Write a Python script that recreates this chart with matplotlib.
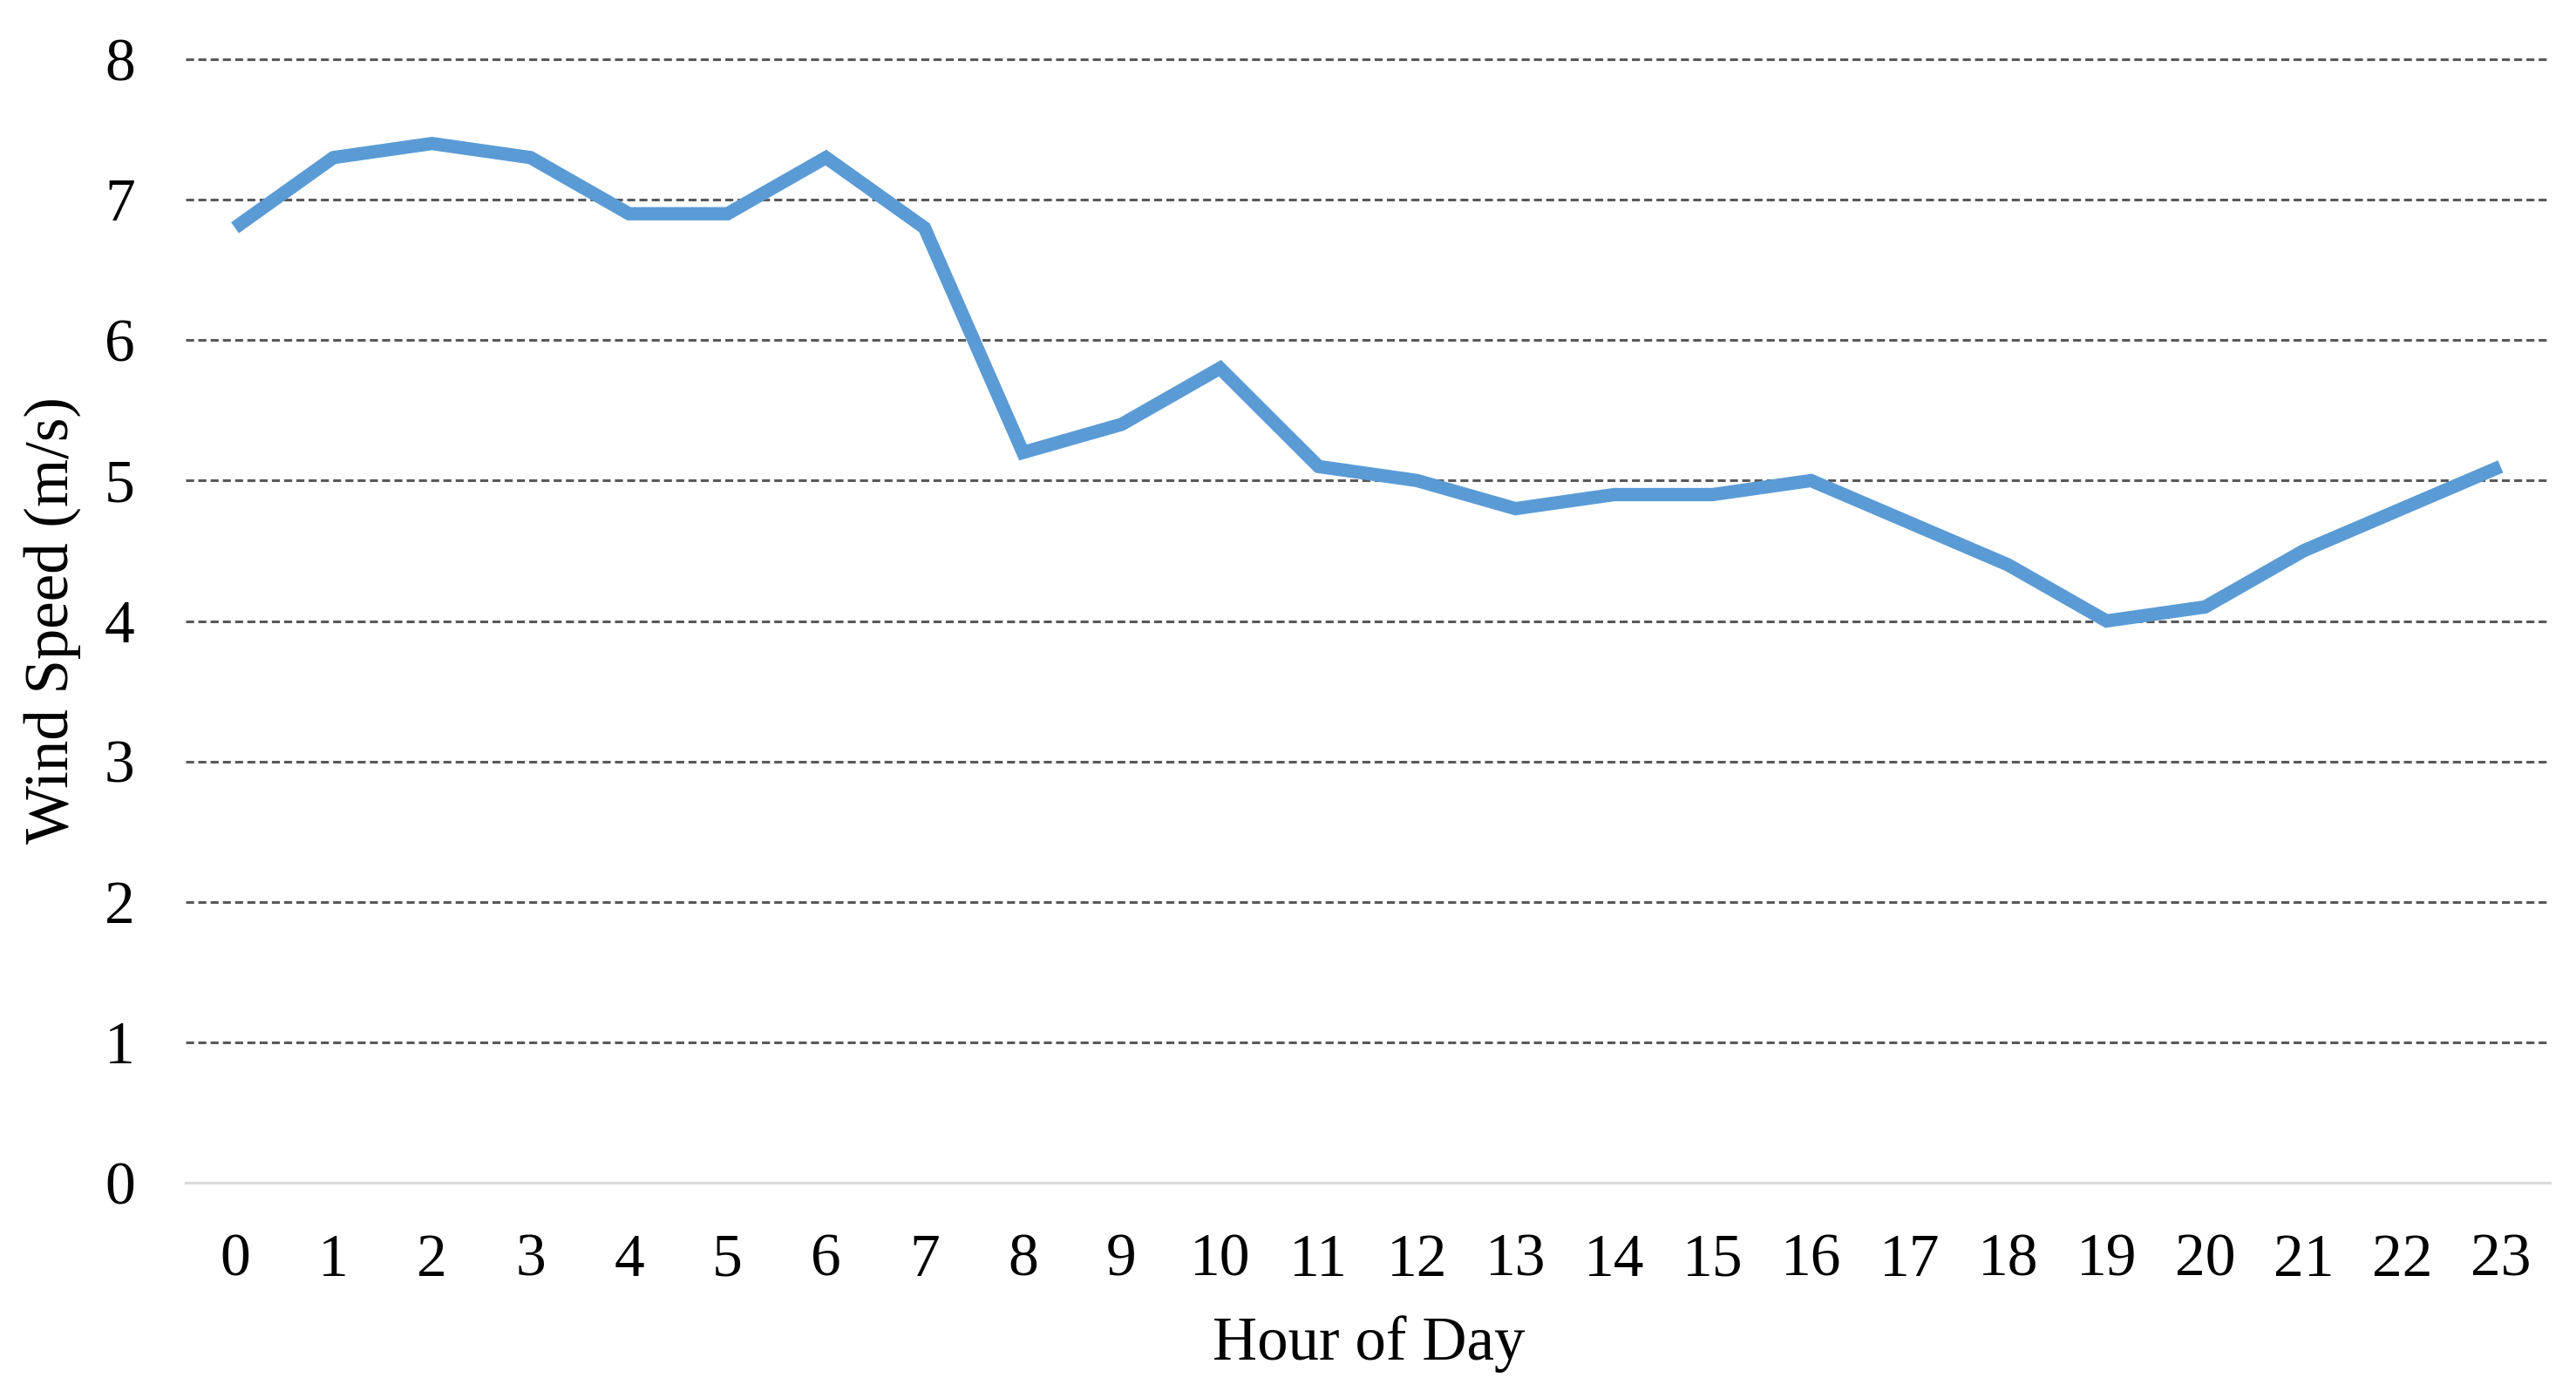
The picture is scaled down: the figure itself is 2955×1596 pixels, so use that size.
import matplotlib
matplotlib.use("Agg")
import matplotlib.pyplot as plt

hours = list(range(24))
wind_speed = [6.8, 7.3, 7.4, 7.3, 6.9, 6.9, 7.3, 6.8, 5.2, 5.4, 5.8, 5.1,
              5.0, 4.8, 4.9, 4.9, 5.0, 4.7, 4.4, 4.0, 4.1, 4.5, 4.8, 5.1]
y_ticks = [0, 1, 2, 3, 4, 5, 6, 7, 8]

plt.rcParams['font.family'] = ['Liberation Serif', 'DejaVu Serif']

W, H, DPI = 2955, 1596, 100
fig = plt.figure(figsize=(W / DPI, H / DPI), dpi=DPI)
ax = fig.add_axes([213 / W, 1 - 1357 / H, (2925 - 213) / W, (1357 - 68) / H])

ax.plot(hours, wind_speed, color='#5B9BD5', linewidth=11.0, solid_joinstyle='miter',
        solid_capstyle='butt', zorder=3)

ax.set_xlim(-0.5, 23.5)
ax.set_ylim(0, 8)
ax.set_yticks(y_ticks)
ax.set_xticks(hours)
ax.set_xticklabels([str(h) for h in hours])

for y in y_ticks[1:]:
    ax.axhline(y, color='#595959', linewidth=2.2, linestyle=(0, (3, 1.6)), zorder=1,
               clip_on=False)

for s in ['top', 'right', 'left']:
    ax.spines[s].set_visible(False)
ax.spines['bottom'].set_color('#D9D9D9')
ax.spines['bottom'].set_linewidth(2.2)

ax.tick_params(axis='both', length=0, labelsize=50, colors='black')
ax.tick_params(axis='y', pad=42)
ax.tick_params(axis='x', pad=42)

fig.text(1570 / W, 1 - 1542 / H, 'Hour of Day', ha='center', va='center',
         fontsize=51)
fig.text(60 / W, 1 - 712 / H, 'Wind Speed (m/s)', ha='center', va='center',
         rotation=90, fontsize=51)

fig.savefig('out.png', dpi=DPI)
